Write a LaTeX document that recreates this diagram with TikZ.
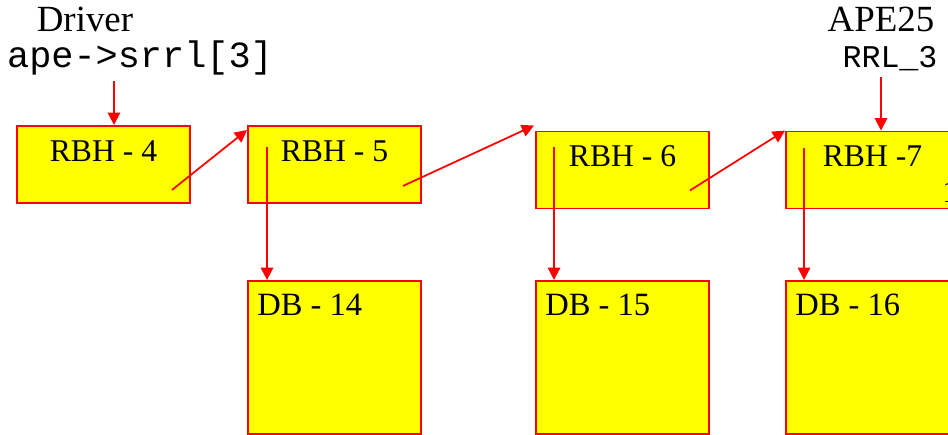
\documentclass[tikz,border=0pt]{standalone}
\usepackage{fontspec}
\setmainfont{Liberation Serif}
\setmonofont{Liberation Mono}
\usepackage{tikz}
\usetikzlibrary{calc}
\usetikzlibrary{arrows.meta}
\definecolor{boxyellow}{RGB}{255,255,0}
\definecolor{linered}{RGB}{255,0,0}

\begin{document}
\begin{tikzpicture}[
    rbh/.style={draw=linered, fill=boxyellow, line width=1.1pt, minimum width=3.46cm, minimum height=1.54cm, inner sep=0pt},
    dbbox/.style={draw=linered, fill=boxyellow, line width=1.1pt, minimum width=3.46cm, minimum height=3.06cm, inner sep=0pt},
    rbhtext/.style={anchor=center, inner sep=0pt, yshift=-0.52cm, font=\fontsize{18}{21}\selectfont},
    dbtext/.style={anchor=west, inner sep=0pt, xshift=0.2cm, yshift=-0.5cm, font=\fontsize{18.5}{21}\selectfont},
    head/.style={font=\fontsize{21}{24}\selectfont},
    link/.style={linered, line width=1pt, -{Triangle[length=7pt, width=7pt]}}]

% Fix the picture size
\useasboundingbox (0, 0) rectangle (18.96, 8.7);
\clip (0, 0) rectangle (18.96, 8.7);

% Headings
\node[head] (drv) at (1.7, 8.32) {Driver};
\node[font=\ttfamily\fontsize{21}{24}\selectfont] (ape) at (2.8, 7.55) {ape->srrl[3]};
\node[head] (apename) at (17.62, 8.32) {APE25};
\node[font=\ttfamily\fontsize{18}{21}\selectfont] (rrl) at (17.8, 7.52) {RRL\_3};

% Buffer headers
\node[rbh, label={[rbhtext]north:RBH - 4}] (r4) at (2.07, 5.41) {};
\node[rbh, label={[rbhtext]north:RBH - 5}] (r5) at (6.69, 5.41) {};
\node[rbh, label={[rbhtext]north:RBH - 6}] (r6) at (12.45, 5.30) {};
\node[rbh, label={[rbhtext]north:RBH -7}] (r7) at (17.45, 5.30) {};
\node[anchor=west, inner sep=0pt, font=\fontsize{18}{21}\selectfont] (more) at (18.84, 4.86) {1};

% Data buffers
\node[dbbox, label={[dbtext]north west:DB - 14}] (d14) at (6.69, 1.55) {};
\node[dbbox, label={[dbtext]north west:DB - 15}] (d15) at (12.45, 1.55) {};
\node[dbbox, label={[dbtext]north west:DB - 16}] (d16) at (17.45, 1.55) {};

% Start points inside the headers
\coordinate (r4out) at ($(r4.south east)+(-0.38, 0.28)$);
\coordinate (r5out) at ($(r5.south east)+(-0.38, 0.36)$);
\coordinate (r6out) at ($(r6.south east)+(-0.40, 0.38)$);
\coordinate (r5db) at ($(r5.north west)+(0.40, -0.44)$);
\coordinate (r6db) at ($(r6.north west)+(0.38, -0.32)$);
\coordinate (r7db) at ($(r7.north west)+(0.38, -0.34)$);

% Pointers
\draw[link] ([xshift=-0.52cm]ape.south) -- ([xshift=-0.52cm]ape.south |- r4.north);
\draw[link] ([xshift=-0.18cm]rrl.south) -- ([xshift=-0.18cm]rrl.south |- r7.north);
\draw[link] (r4out) -- ([yshift=-0.1cm]r5.north west);
\draw[link] (r5out) -- ([shift={(-0.02cm, 0.1cm)}]r6.north west);
\draw[link] (r6out) -- (r7.north west);
\draw[link] (r5db) -- (r5db |- d14.north);
\draw[link] (r6db) -- (r6db |- d15.north);
\draw[link] (r7db) -- (r7db |- d16.north);

\end{tikzpicture}
\end{document}
